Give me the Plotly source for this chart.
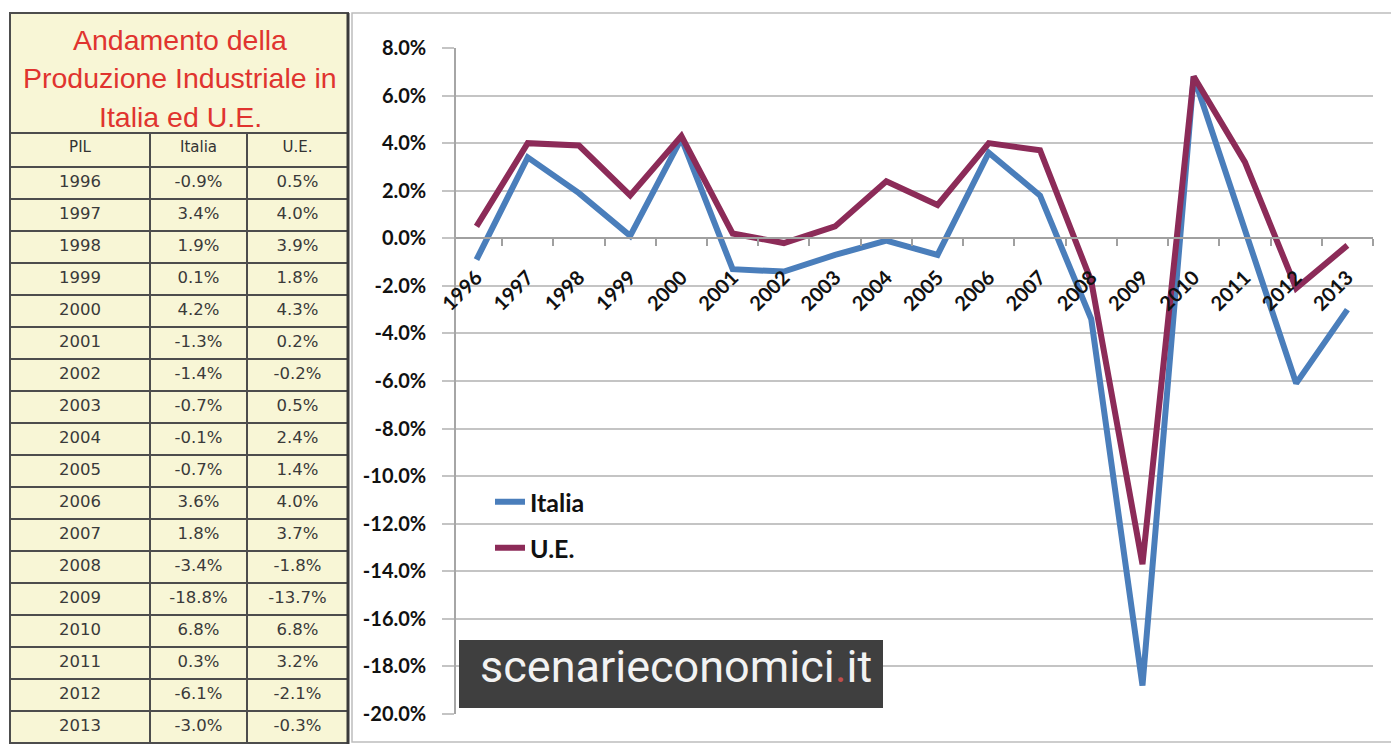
import plotly.graph_objects as go

# the page body has an 8px default margin: the figure is shrunk by it so that
# it fills the 1399x744 window exactly
OFF = 8
W, H = 1399 - OFF, 744 - OFF

years = [str(y) for y in range(1996, 2014)]
italia = [-0.9, 3.4, 1.9, 0.1, 4.2, -1.3, -1.4, -0.7, -0.1, -0.7, 3.6, 1.8, -3.4, -18.8, 6.8, 0.3, -6.1, -3.0]
ue = [0.5, 4.0, 3.9, 1.8, 4.3, 0.2, -0.2, 0.5, 2.4, 1.4, 4.0, 3.7, -1.8, -13.7, 6.8, 3.2, -2.1, -0.3]

ytick_vals = [8, 6, 4, 2, 0, -2, -4, -6, -8, -10, -12, -14, -16, -18, -20]
ytick_text = ["%.1f%%" % v for v in ytick_vals]

title_lines = ["Andamento della", "Produzione Industriale in", "Italia ed U.E."]
table_header = ["PIL", "Italia", "U.E."]

BLUE = "#4A7EBB"
MAROON = "#8C2B58"
YELLOW = "#F8F6D6"
GRID = "#C4C4C4"


def px_x(p):
    return (p - OFF) / W


def px_y(p):
    return 1 - (p - OFF) / H


# plot area in window pixels
PX0, PX1 = 456, 1373
PY0, PY1 = 48, 714
ymin, ymax = -20, 8
y_dom = [px_y(PY1), px_y(PY0)]
zero_pos = y_dom[0] + (y_dom[1] - y_dom[0]) * (0 - ymin) / (ymax - ymin)

fig = go.Figure()

fig.add_trace(go.Scatter(x=years, y=italia, mode="lines", name="Italia",
                         line=dict(color=BLUE, width=6), legend="legend"))
fig.add_trace(go.Scatter(x=years, y=ue, mode="lines", name="U.E.",
                         line=dict(color=MAROON, width=6), legend="legend2"))

# table
fig.add_trace(go.Table(
    domain=dict(x=[px_x(10), px_x(348)], y=[0, px_y(133)]),
    columnwidth=[140, 97, 101],
    header=dict(values=table_header, fill_color=YELLOW, height=34,
                line=dict(color="#4D4D4D", width=2), align="center",
                font=dict(family="DejaVu Sans", size=15, color="#333333")),
    cells=dict(values=[years,
                       ["%.1f%%" % v for v in italia],
                       ["%.1f%%" % v for v in ue]],
               fill_color=YELLOW, height=32,
               line=dict(color="#4D4D4D", width=2), align="center",
               font=dict(family="DejaVu Sans", size=16.5, color="#3A3A3A")),
))

shapes = [
    # chart outer frame
    dict(type="rect", xref="paper", yref="paper", x0=px_x(352), x1=px_x(1394),
         y0=px_y(742), y1=px_y(13), line=dict(color="#BDBDBD", width=1.5),
         fillcolor="rgba(0,0,0,0)", layer="below"),
    # title box
    dict(type="rect", xref="paper", yref="paper", x0=px_x(10), x1=px_x(348),
         y0=px_y(134), y1=px_y(13), line=dict(color="#4D4D4D", width=2),
         fillcolor=YELLOW, layer="below"),
    # table right thick border
    dict(type="line", xref="paper", yref="paper", x0=px_x(348), x1=px_x(348),
         y0=0, y1=px_y(13), line=dict(color="#3A3A3A", width=3)),
    # watermark box
    dict(type="rect", xref="paper", yref="paper", x0=px_x(459), x1=px_x(883),
         y0=px_y(708), y1=px_y(640), line=dict(width=0),
         fillcolor="#3F3F3F", layer="above"),
]

annotations = []
for txt, yc in zip(title_lines, [40, 78, 117]):
    annotations.append(dict(text=txt, xref="paper", yref="paper", x=px_x(180), y=px_y(yc),
                            xanchor="center", yanchor="middle", showarrow=False,
                            font=dict(family="Liberation Sans", size=28.5, color="#E0342F")))
annotations.append(dict(text="scenarieconomici<span style='color:#C0504D'>.</span>it",
                        xref="paper", yref="paper", x=px_x(676), y=px_y(666),
                        xanchor="center", yanchor="middle", showarrow=False,
                        font=dict(family="Roboto, Liberation Sans",
                                  size=45, color="#F2F2F2")))

legend_font = dict(family="Lato", size=25, color="#111111", weight="bold")

fig.update_layout(
    width=W, height=H,
    margin=dict(l=0, r=0, t=0, b=0, autoexpand=False),
    paper_bgcolor="white", plot_bgcolor="white",
    shapes=shapes, annotations=annotations,
    showlegend=True,
    legend=dict(x=px_x(490), y=px_y(502), xanchor="left", yanchor="middle",
                bgcolor="rgba(0,0,0,0)", font=legend_font),
    legend2=dict(x=px_x(490), y=px_y(548), xanchor="left", yanchor="middle",
                 bgcolor="rgba(0,0,0,0)", font=legend_font),
    xaxis=dict(type="category", domain=[px_x(PX0), px_x(PX1)], range=[-0.4, 17.5],
               anchor="free", position=zero_pos, automargin=False,
               showline=True, linecolor="#A0A0A0", linewidth=1.5,
               ticks="outside", tickson="boundaries", ticklen=7, tickcolor="#A0A0A0",
               tickwidth=1.5, tickangle=-45, showgrid=False,
               tickfont=dict(family="Lato", size=20, color="#111111", weight="bold"),
               ticklabelstandoff=19),
    yaxis=dict(domain=y_dom, range=[ymin, ymax], tickvals=ytick_vals, ticktext=ytick_text,
               automargin=False,
               showline=True, linecolor="#A6A6A6", linewidth=1.5,
               ticks="outside", ticklen=12, tickcolor=GRID, tickwidth=2,
               showgrid=True, gridcolor=GRID, gridwidth=2, zeroline=False,
               tickfont=dict(family="Lato", size=20, color="#111111", weight="bold"),
               ticklabelstandoff=12),
)

fig.write_html("out.html")
